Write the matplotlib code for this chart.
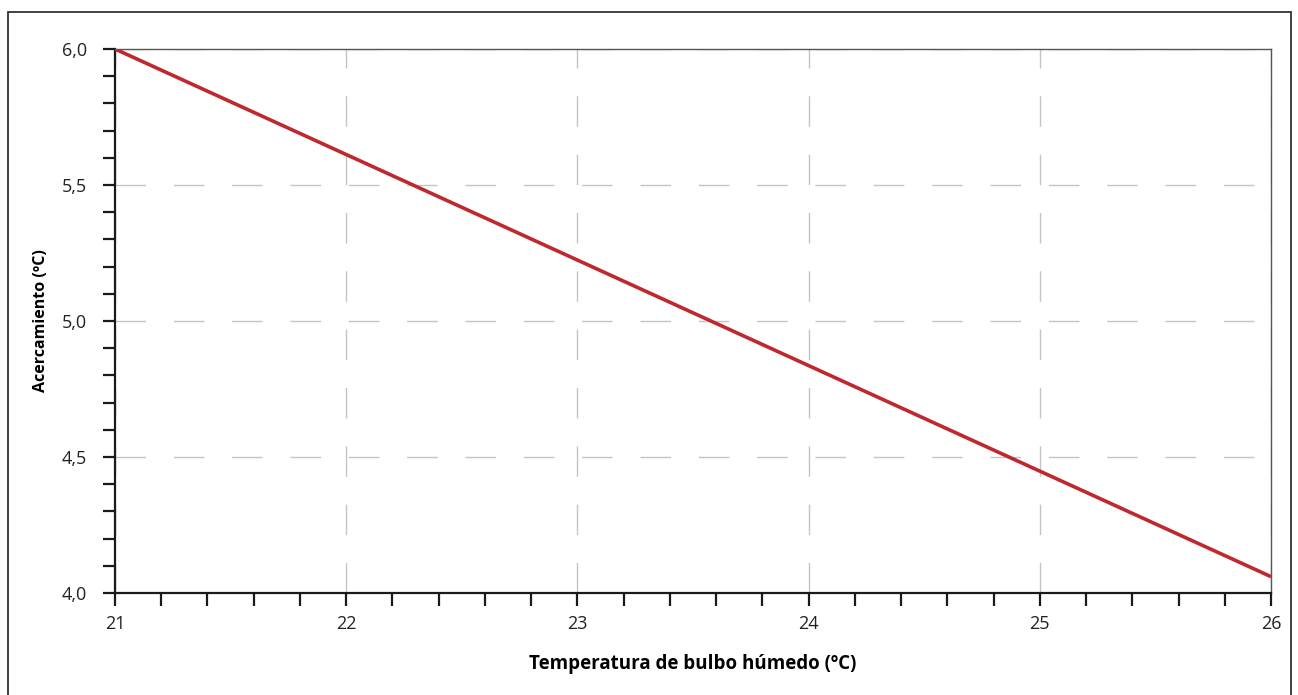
import matplotlib
matplotlib.use("Agg")
import matplotlib.pyplot as plt
from matplotlib.patches import Rectangle
from matplotlib.ticker import MultipleLocator

# data
temp_bulbo = [21, 26]
acercamiento = [6.0, 4.06]

x_ticks = [21, 22, 23, 24, 25, 26]
y_ticks = [4.0, 4.5, 5.0, 5.5, 6.0]
y_labels = ["4,0", "4,5", "5,0", "5,5", "6,0"]

plt.rcParams['font.family'] = ['Open Sans', 'DejaVu Sans']

fig = plt.figure(figsize=(12.98, 6.95), dpi=100)
ax = fig.add_axes([0.0886, 0.1468, 0.8906, 0.7827])

# outer frame
fig.patches.append(Rectangle((8 / 1298, -0.05), 1283 / 1298, 1.05 - 12 / 695,
                             transform=fig.transFigure, fill=False,
                             edgecolor='#333333', linewidth=1.3))

ax.plot(temp_bulbo, acercamiento, color='#c0282f', linewidth=2.6,
        solid_capstyle='butt', zorder=3)

ax.set_xlim(21, 26)
ax.set_ylim(4.0, 6.0)
ax.set_xticks(x_ticks)
ax.set_xticklabels([str(t) for t in x_ticks])
ax.set_yticks(y_ticks)
ax.set_yticklabels(y_labels)
ax.xaxis.set_minor_locator(MultipleLocator(0.2))
ax.yaxis.set_minor_locator(MultipleLocator(0.1))

ax.tick_params(which='both', direction='out', length=9, width=1.6,
               color='#1a1a1a', top=False, right=False)
ax.tick_params(which='major', labelsize=13, labelcolor='#222222')
ax.tick_params(axis='x', which='major', pad=7)
ax.tick_params(axis='y', which='major', pad=11)

ax.grid(True, which='major', color='#c4c4c4', linewidth=1.0,
        dashes=(22, 20))

for side in ['left', 'bottom']:
    ax.spines[side].set_color('#1a1a1a')
    ax.spines[side].set_linewidth(1.6)
for side in ['top', 'right']:
    ax.spines[side].set_color('#555555')
    ax.spines[side].set_linewidth(1.0)

ax.set_xlabel('Temperatura de bulbo húmedo (ºC)', fontsize=13.5,
              fontweight='bold', labelpad=15)
ax.set_ylabel('Acercamiento (ºC)', fontsize=11.5, fontweight='bold',
              labelpad=9)

fig.savefig('out.png', dpi=100)
